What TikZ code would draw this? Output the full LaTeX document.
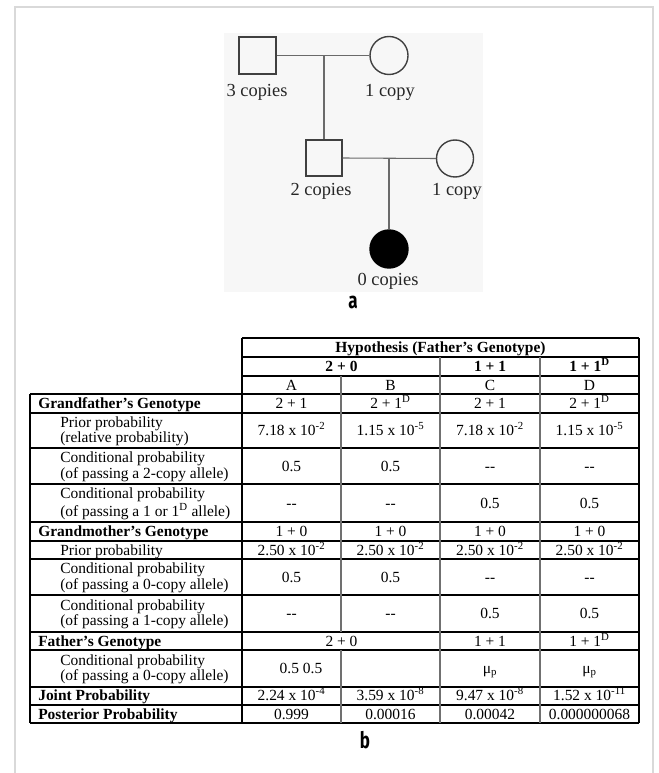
\documentclass[tikz,border=0pt]{standalone}
\usepackage{fontspec}
\usepackage{graphicx}
\setmainfont{Liberation Serif}
\newfontfamily\panelfont{Fira Sans}
\newcommand\tabfnt{\fontsize{11.6}{13.5}\selectfont}
\newcommand\pedfnt{\fontsize{13.8}{16}\selectfont}
\newcommand\sups[1]{\textsuperscript{#1}}
\definecolor{framegray}{HTML}{D9D9D9}
\definecolor{pedgray}{HTML}{404040}
\definecolor{conngray}{HTML}{6A6A6A}
\definecolor{photobg}{HTML}{F7F7F7}
\definecolor{vgray}{HTML}{707070}
\begin{document}
\begin{tikzpicture}[x=0.75pt,y=-0.75pt,
  pedline/.style={draw=pedgray, line width=1.05pt},
  conn/.style={draw=conngray, line width=0.8pt},
  sqnode/.style={pedline, rectangle, inner sep=0pt},
  cinode/.style={pedline, circle, inner sep=0pt, minimum size=28.5pt},
  pedlab/.style={anchor=base, inner sep=0pt, font=\pedfnt, text=black!85},
  cell/.style={anchor=base, inner sep=0pt, font=\tabfnt},
  bcell/.style={cell, font=\tabfnt\bfseries},
  lab/.style={anchor=base west, inner sep=0pt, font=\tabfnt},
  blab/.style={lab, font=\tabfnt\bfseries},
  hline/.style={draw=black, line width=0.8pt},
  vline/.style={draw=vgray, line width=0.9pt},
  panel/.style={anchor=base, inner sep=0pt}
]
\useasboundingbox (0,0) rectangle (658,773);
% frame
\draw[framegray, line width=2.2pt] (15,773) -- (15,7) -- (653,7) -- (653,773);
% photo background of pedigree
\fill[photobg] (224,33) rectangle (483,292);

% ---------- pedigree ----------
\node[sqnode, minimum size=27.75pt] (gf) at (257.5,55.5) {};
\node[cinode] (gm) at (389,55.5) {};
\node[sqnode, minimum size=27pt] (fa) at (324,158) {};
\node[cinode, minimum size=27.75pt] (mo) at (455,158.5) {};
\node[cinode, fill=black, draw=black] (ch) at (389,249) {};
\coordinate (m1) at (fa.north |- gf.east);
\coordinate (m2) at (ch.north |- fa.east);
\draw[conn] (gf.east) -- (gm.west);
\draw[conn] (m1) -- (fa.north);
\draw[conn] (fa.east) -- (mo.west);
\draw[conn] (m2) -- (ch.north);
\node[pedlab] (lgf) at (257,97) {3 copies};
\node[pedlab] (lgm) at (390,97) {1 copy};
\node[pedlab] (lfa) at (321,196) {2 copies};
\node[pedlab] (lmo) at (457,196) {1 copy};
\node[pedlab] (lch) at (388,285) {0 copies};
\node[panel] (pa) at (353,308) {\scalebox{0.75}[1]{\fontsize{17}{20}\selectfont\panelfont\bfseries a}};

% ---------- table grid ----------
\draw[hline] (242,338) -- (639,338);
\draw[hline] (242,357) -- (639,357);
\draw[hline] (242,376) -- (639,376);
\foreach \yy in {394,413,448,484,522,541,559,595,632,650,687,705,723}
  \draw[hline] (30,\yy) -- (639,\yy);
\draw[hline] (30,394) -- (30,723);
\draw[hline] (242,338) -- (242,723);
\draw[hline] (639,338) -- (639,723);
\draw[vline] (341,376) -- (341,632);
\draw[vline] (341,650) -- (341,723);
\draw[vline] (440,357) -- (440,723);
\draw[vline] (540,357) -- (540,723);

% ---------- header ----------
\node[bcell] (h0) at (440.5,352.5) {Hypothesis (Father's Genotype)};
\node[bcell] (h1) at (341.5,371.5) {2 + 0};
\node[bcell] (h2) at (490,371.5) {1 + 1};
\node[bcell] (h3) at (589.5,371.5) {1 + 1\sups{D}};
\node[cell] (ha) at (291.5,390) {A};
\node[cell] (hb) at (390.5,390) {B};
\node[cell] (hc) at (490,390) {C};
\node[cell] (hd) at (589.5,390) {D};

% ---------- labels ----------
\node[blab] (l1) at (38,408.5) {Grandfather's Genotype};
\node[lab] (l2a) at (60,427) {Prior probability};
\node[lab] (l2b) at (60,442.5) {(relative probability)};
\node[lab] (l3a) at (60,462.5) {Conditional probability};
\node[lab] (l3b) at (60,478) {(of passing a 2-copy allele)};
\node[lab] (l4a) at (60,498.5) {Conditional probability};
\node[lab] (l4b) at (60,516) {(of passing a 1 or 1\sups{D} allele)};
\node[blab] (l5) at (38,536.5) {Grandmother's Genotype};
\node[lab] (l6) at (60,555) {Prior probability};
\node[lab] (l7a) at (60,573.5) {Conditional probability};
\node[lab] (l7b) at (60,589) {(of passing a 0-copy allele)};
\node[lab] (l8a) at (60,610) {Conditional probability};
\node[lab] (l8b) at (60,625.5) {(of passing a 1-copy allele)};
\node[blab] (l9) at (38,646) {Father's Genotype};
\node[lab] (l10a) at (60,665) {Conditional probability};
\node[lab] (l10b) at (60,680.5) {(of passing a 0-copy allele)};
\node[blab] (l11) at (38,700.5) {Joint Probability};
\node[blab] (l12) at (38,719) {Posterior Probability};

% ---------- data ----------
\node[cell] (d1a) at (291.5,408.5) {2 + 1};
\node[cell] (d1b) at (390.5,408.5) {2 + 1\sups{D}};
\node[cell] (d1c) at (490,408.5) {2 + 1};
\node[cell] (d1d) at (589.5,408.5) {2 + 1\sups{D}};
\node[cell] (d2a) at (291.5,435.5) {7.18 x 10\sups{-2}};
\node[cell] (d2b) at (390.5,435.5) {1.15 x 10\sups{-5}};
\node[cell] (d2c) at (490,435.5) {7.18 x 10\sups{-2}};
\node[cell] (d2d) at (589.5,435.5) {1.15 x 10\sups{-5}};
\node[cell] (d3a) at (291.5,471) {0.5};
\node[cell] (d3b) at (390.5,471) {0.5};
\node[cell] (d3c) at (490,471) {-{}-};
\node[cell] (d3d) at (589.5,471) {-{}-};
\node[cell] (d4a) at (291.5,508) {-{}-};
\node[cell] (d4b) at (390.5,508) {-{}-};
\node[cell] (d4c) at (490,508) {0.5};
\node[cell] (d4d) at (589.5,508) {0.5};
\node[cell] (d5a) at (291.5,536.5) {1 + 0};
\node[cell] (d5b) at (390.5,536.5) {1 + 0};
\node[cell] (d5c) at (490,536.5) {1 + 0};
\node[cell] (d5d) at (589.5,536.5) {1 + 0};
\node[cell] (d6a) at (291.5,555) {2.50 x 10\sups{-2}};
\node[cell] (d6b) at (390.5,555) {2.50 x 10\sups{-2}};
\node[cell] (d6c) at (490,555) {2.50 x 10\sups{-2}};
\node[cell] (d6d) at (589.5,555) {2.50 x 10\sups{-2}};
\node[cell] (d7a) at (291.5,582) {0.5};
\node[cell] (d7b) at (390.5,582) {0.5};
\node[cell] (d7c) at (490,582) {-{}-};
\node[cell] (d7d) at (589.5,582) {-{}-};
\node[cell] (d8a) at (291.5,618.5) {-{}-};
\node[cell] (d8b) at (390.5,618.5) {-{}-};
\node[cell] (d8c) at (490,618.5) {0.5};
\node[cell] (d8d) at (589.5,618.5) {0.5};
\node[cell] (d9ab) at (341.5,646) {2 + 0};
\node[cell] (d9c) at (490,646) {1 + 1};
\node[cell] (d9d) at (589.5,646) {1 + 1\sups{D}};
\node[cell] (d10a) at (301,673.5) {0.5 0.5};
\node[cell] (d10c) at (490,673.5) {μ\textsubscript{p}};
\node[cell] (d10d) at (589.5,673.5) {μ\textsubscript{p}};
\node[cell] (d11a) at (291.5,700.5) {2.24 x 10\sups{-4}};
\node[cell] (d11b) at (390.5,700.5) {3.59 x 10\sups{-8}};
\node[cell] (d11c) at (490,700.5) {9.47 x 10\sups{-8}};
\node[cell] (d11d) at (589.5,700.5) {1.52 x 10\sups{-11}};
\node[cell] (d12a) at (291.5,719) {0.999};
\node[cell] (d12b) at (390.5,719) {0.00016};
\node[cell] (d12c) at (490,719) {0.00042};
\node[cell] (d12d) at (589.5,719) {0.000000068};

\node[panel] (pb) at (365,748) {\scalebox{0.75}[1]{\fontsize{17}{20}\selectfont\panelfont\bfseries b}};
\end{tikzpicture}
\end{document}
